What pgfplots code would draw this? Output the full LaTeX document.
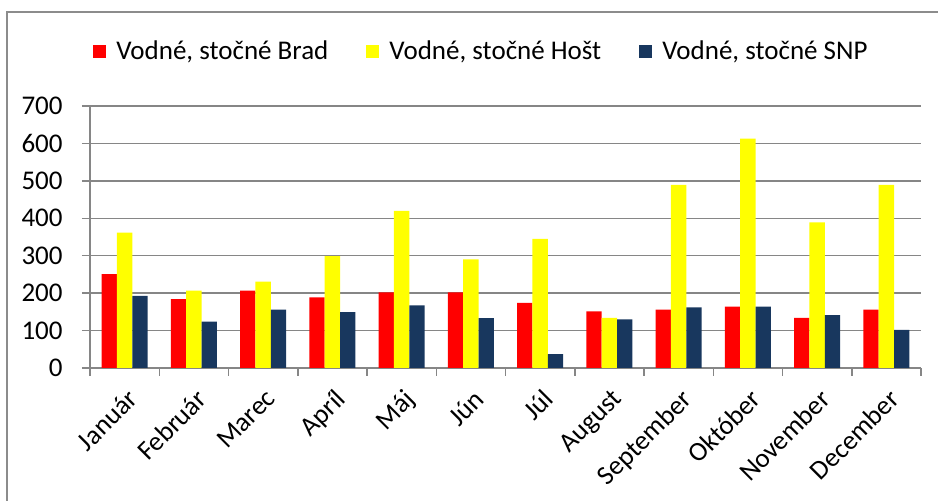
\documentclass[border=0pt]{standalone}
\usepackage{pgfplots}
\pgfplotsset{compat=1.18}
\usepackage{fontspec}
\setmainfont{Carlito}
\definecolor{brad}{RGB}{255,0,0}
\definecolor{host}{RGB}{255,255,0}
\definecolor{snp}{RGB}{24,55,94}
\definecolor{gridc}{RGB}{134,134,134}
\definecolor{framec}{RGB}{140,140,140}

\begin{document}
\begin{tikzpicture}
\begin{axis}[at={(45pt,66.5pt)}, anchor=south west, scale only axis,
  width=415.5pt, height=131pt,
  ybar=0pt, bar width=7.65pt,
  xmin=-0.5, xmax=11.5, ymin=0, ymax=700,
  ytick={0,100,...,700},
  xtick={-0.5,0.5,...,11.5},
  xticklabels={Január,Február,Marec,Apríl,Máj,Jún,Júl,August,September,Október,November,December},
  x tick label as interval,
  axis x line*=bottom, axis y line*=left,
  axis line style={gridc, line width=0.75pt},
  ymajorgrids, grid style={gridc, line width=0.75pt},
  tick style={gridc, line width=0.75pt},
  tick align=outside, major tick length=4pt,
  /pgf/number format/assume math mode=true,
  tick label style={font=\fontsize{13.5}{15}\selectfont},
  xticklabel shift=5pt,
  xticklabel style={rotate=45, anchor=north east, inner sep=1pt, xshift=1pt},
  yticklabel style={inner sep=1pt, xshift=-8.5pt},
  legend style={at={(axis description cs:0.471,1.206)}, anchor=center,
    draw=none, legend columns=3, font=\fontsize{13.5}{15}\selectfont,
    nodes={inner sep=1pt},
    /tikz/every odd column/.append style={column sep=4pt},
    /tikz/every even column/.append style={column sep=18pt}},
  legend image code/.code={\fill[#1] (0pt,-3.1pt) rectangle (6.5pt,3.4pt);},
]
\addplot[fill=brad, draw=none] coordinates {(0,251)(1,184)(2,207)(3,189)(4,202)(5,202)(6,174)(7,151)(8,156)(9,164)(10,134)(11,156)};
\addplot[fill=host, draw=none] coordinates {(0,362)(1,207)(2,231)(3,299)(4,420)(5,290)(6,345)(7,134)(8,489)(9,613)(10,389)(11,489)};
\addplot[fill=snp, draw=none] coordinates {(0,193)(1,124)(2,156)(3,149)(4,167)(5,133)(6,37)(7,130)(8,162)(9,164)(10,141)(11,102)};
\legend{{Vodné, stočné Brad},{Vodné, stočné Hošt},{Vodné, stočné SNP}}
\end{axis}
\draw[framec, line width=1pt] (3.5pt,-5pt) -- (3.5pt,244.5pt) -- (475pt,244.5pt);
\pgfresetboundingbox
\path[use as bounding box] (0pt,0pt) rectangle (469pt,250.5pt);
\end{tikzpicture}
\end{document}
